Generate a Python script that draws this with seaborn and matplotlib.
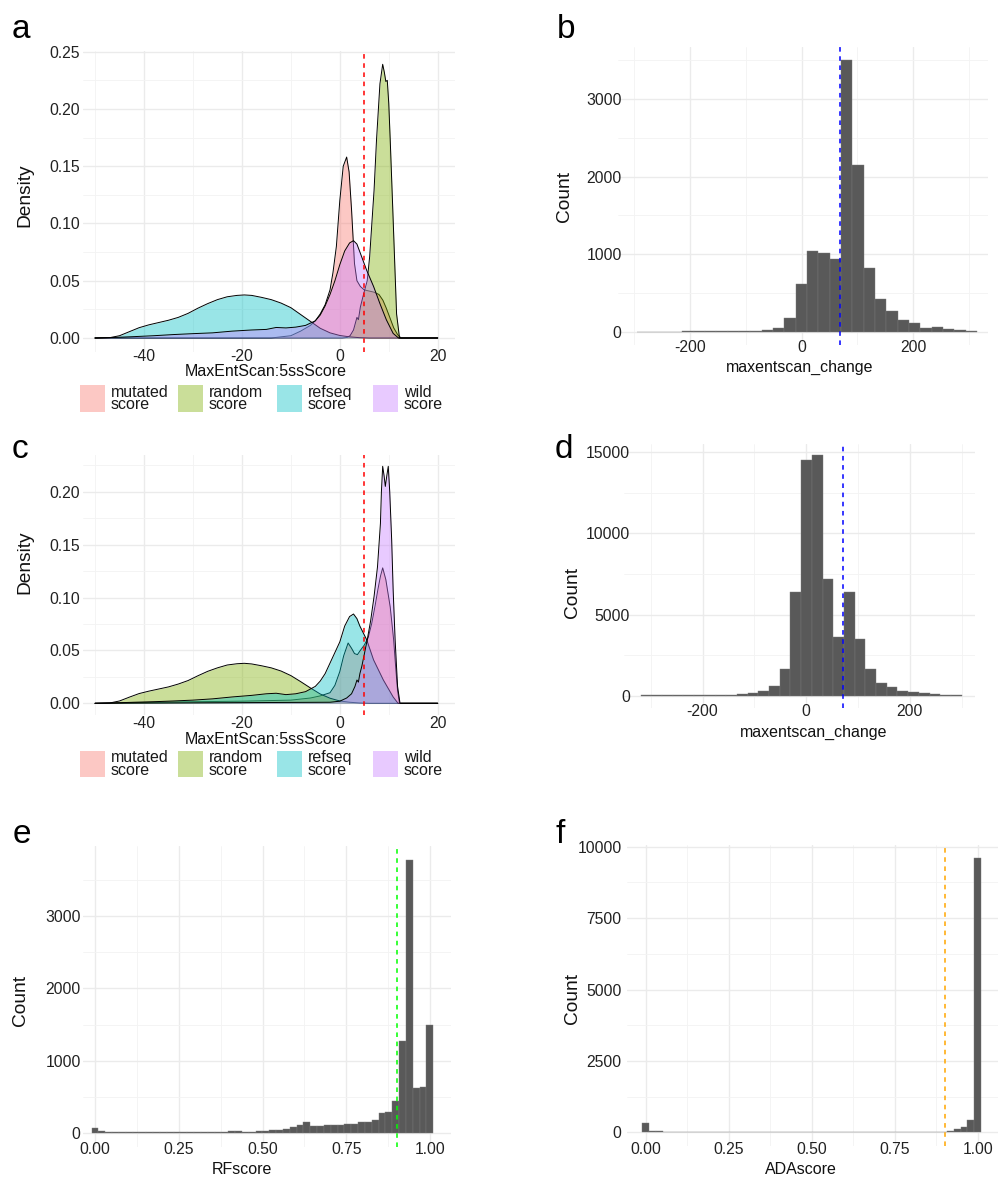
import numpy as np
import pandas as pd
import matplotlib
matplotlib.use("Agg")
import matplotlib.pyplot as plt
import seaborn as sns
from matplotlib.patches import Rectangle
from matplotlib.transforms import Affine2D
from matplotlib.colors import to_rgba

# ---------------- data ----------------
groups = ["mutated\nscore", "random\nscore", "refseq\nscore", "wild\nscore"]
group_colors = ["#F8766D", "#7CAE00", "#00BFC4", "#C77CFF"]

# panel a : densities of MaxEntScan:5ssScore
a_mutated_x = [-50, -14, -10, -8, -6, -5, -4, -3, -2, -1.4, -0.7, 0, 0.7, 1.4, 1.9, 2.4, 3.0, 3.5, 4.2, 5.0,
               6.0, 7.0, 8.0, 8.8, 9.5, 10.3, 11.0, 11.8, 12.5, 20]
a_mutated_d = [0, 0, 0.002, 0.006, 0.011, 0.015, 0.021, 0.029, 0.042, 0.057, 0.08, 0.12, 0.15, 0.158, 0.145, 0.112,
               0.065, 0.05, 0.045, 0.042, 0.041, 0.040, 0.038, 0.033, 0.026, 0.017, 0.009, 0.003, 0, 0]
a_random_x = [-50, 0.5, 1.5, 2.1, 2.8, 3.5, 3.8, 4.2, 4.9, 5.6, 6.1, 6.5, 7.0, 7.5, 8.2, 8.76, 9.1, 9.4, 9.7, 10.0,
              10.3, 10.8, 11.3, 11.6, 12.2, 20]
a_random_d = [0, 0, 0.0005, 0.002, 0.007, 0.018, 0.016, 0.027, 0.039, 0.05, 0.071, 0.097, 0.129, 0.173, 0.222,
              0.239, 0.232, 0.224, 0.225, 0.205, 0.173, 0.115, 0.056, 0.021, 0, 0]
a_refseq_x = [-50, -47, -45, -43, -41, -39, -37, -35, -33, -31, -29, -27, -25, -23, -21, -19.5, -18, -16, -14, -12,
              -10, -8, -6, -4, -2, 0, 2, 4, 6, 20]
a_refseq_d = [0, 0.0003, 0.002, 0.0055, 0.009, 0.0115, 0.0135, 0.0155, 0.018, 0.0215, 0.026, 0.030, 0.0335, 0.036,
              0.0372, 0.0376, 0.0372, 0.0355, 0.0335, 0.0305, 0.0265, 0.0205, 0.0145, 0.0085, 0.0045, 0.0022,
              0.001, 0.0003, 0, 0]
a_wild_x = [-50, -46, -42, -38, -34, -30, -26, -22, -18, -15, -13, -11, -9, -7, -5, -4, -3, -2, -1, 0,
            1, 2, 2.8, 3.5, 4.2, 5.5, 6.9, 8.2, 9.5, 10.9, 12, 20]
a_wild_d = [0, 0.0005, 0.0012, 0.002, 0.003, 0.0038, 0.0045, 0.006, 0.007, 0.0075, 0.0092, 0.0088, 0.0095, 0.011,
            0.015, 0.02, 0.028, 0.038, 0.05, 0.064, 0.076, 0.083, 0.085, 0.082, 0.074, 0.059, 0.045, 0.030, 0.016,
            0.004, 0, 0]

# panel c : densities of MaxEntScan:5ssScore
c_mutated_x = [-50, -40, -30, -20, -10, -6, -4, -2, -1, 0, 0.8, 1.7, 2.4, 3.0, 3.6, 4.2, 5.0, 5.8, 6.5, 7.2,
               7.8, 8.3, 8.76, 9.4, 10.3, 11.0, 11.4, 11.8, 12.2, 20]
c_mutated_d = [0, 0.0008, 0.0015, 0.002, 0.003, 0.005, 0.007, 0.01, 0.017, 0.03, 0.045, 0.057, 0.052, 0.047, 0.046,
               0.05, 0.055, 0.062, 0.075, 0.092, 0.108, 0.12, 0.128, 0.117, 0.091, 0.06, 0.035, 0.012, 0, 0]
c_random_x = [-50, -47, -45, -43, -41, -39, -37, -35, -33, -31, -29, -27, -25, -23, -21, -19.5, -18, -16, -14, -12,
              -10, -8, -6, -4, -2, 0, 2, 4, 6, 20]
c_random_d = [0, 0.0003, 0.0022, 0.0058, 0.0092, 0.0115, 0.0135, 0.0155, 0.0182, 0.0215, 0.026, 0.0302, 0.0335,
              0.0362, 0.0374, 0.0378, 0.0372, 0.0355, 0.0335, 0.0305, 0.0262, 0.0205, 0.0145, 0.0088, 0.0048,
              0.0022, 0.001, 0.0003, 0, 0]
c_refseq_x = [-50, -46, -42, -38, -34, -30, -26, -22, -18, -15, -13, -11, -9, -7, -5, -4, -3, -2, -1, 0,
              1, 2, 2.8, 3.5, 4.1, 5.5, 6.9, 8.9, 10.9, 11.9, 20]
c_refseq_d = [0, 0.0004, 0.001, 0.0015, 0.0022, 0.003, 0.0042, 0.006, 0.0075, 0.009, 0.0095, 0.0082, 0.009, 0.011,
              0.016, 0.021, 0.028, 0.038, 0.048, 0.058, 0.073, 0.082, 0.0844, 0.080, 0.073, 0.060, 0.041, 0.022,
              0.006, 0, 0]
c_wild_x = [-50, -2, 0, 1.4, 2.4, 3.1, 3.5, 3.8, 4.1, 4.5, 4.9, 5.6, 6.3, 7.0, 7.7, 8.3, 8.5, 8.76, 9.05, 9.3,
            9.6, 9.9, 10.2, 10.6, 10.9, 11.3, 11.8, 12.3, 20]
c_wild_d = [0, 0.001, 0.002, 0.005, 0.009, 0.016, 0.022, 0.02, 0.028, 0.035, 0.044, 0.06, 0.078, 0.101, 0.129,
            0.17, 0.2, 0.224, 0.215, 0.205, 0.215, 0.224, 0.2, 0.154, 0.107, 0.06, 0.016, 0, 0]
density_threshold = 5

# panel b : histogram of maxentscan_change (30 bins)
b_bin_start = -295.0
b_bin_width = 20.3
b_counts = [2, 2, 2, 2, 3, 3, 3, 4, 5, 6, 9, 21, 47, 180, 615, 1040, 1010, 933, 3498, 2149,
            821, 417, 271, 146, 107, 52, 60, 30, 17, 6]
b_threshold = 68.6

# panel d : histogram of maxentscan_change (30 bins)
d_bin_start = -319.3
d_bin_width = 20.64
d_counts = [20, 20, 25, 25, 30, 35, 40, 45, 60, 85, 165, 310, 600, 1670, 6360, 14550, 14820, 7180, 3640, 6380,
            3480, 1630, 800, 515, 310, 205, 145, 82, 62, 41]
d_threshold = 70.4

# panel e : histogram of RFscore (50 bins)
score_bin_start = -0.0102
score_bin_width = 0.0204
e_counts = [80, 37, 23, 18, 18, 16, 15, 15, 14, 15, 16, 15, 16, 18, 18, 18, 18, 16, 18, 18,
            28, 28, 23, 23, 28, 37, 50, 50, 60, 83, 110, 150, 105, 100, 110, 110, 110, 124, 128, 151,
            151, 179, 276, 292, 450, 1275, 3770, 625, 635, 1500]
e_threshold = 0.9

# panel f : histogram of ADAscore (50 bins)
f_counts = [315, 58, 35, 23, 18, 14, 12, 12, 11, 10, 10, 9, 10, 11, 10, 12, 11, 12, 13, 11,
            12, 13, 12, 14, 13, 15, 14, 13, 15, 16, 15, 17, 16, 18, 17, 19, 18, 20, 21, 19,
            22, 21, 24, 23, 28, 55, 110, 170, 425, 9590]
f_threshold = 0.9

# ticks
dens_xticks = [-40, -20, 0, 20]
dens_xticks_minor = [-50, -30, -10, 10]
a_yticks = [0, 0.05, 0.10, 0.15, 0.20, 0.25]
c_yticks = [0, 0.05, 0.10, 0.15, 0.20]
change_xticks = [-200, 0, 200]
change_xticks_minor = [-300, -100, 100, 300]
b_yticks = [0, 1000, 2000, 3000]
d_yticks = [0, 5000, 10000, 15000]
score_xticks = [0, 0.25, 0.5, 0.75, 1.0]
e_yticks = [0, 1000, 2000, 3000]
f_yticks = [0, 2500, 5000, 7500, 10000]

# ---------------- figure ----------------
W, H, DPI = 1001, 1179, 100
sns.set_theme(style="white")
plt.rcParams["font.family"] = ["Liberation Sans", "DejaVu Sans"]
plt.rcParams["axes.unicode_minus"] = False

fig = plt.figure(figsize=(W / DPI, H / DPI), dpi=DPI)
fig.patch.set_facecolor("white")
TOP = Affine2D().scale(1, -1).translate(0, H)   # pixel coords from top-left -> display

TICK_COLOR = "#222222"


def px_axes(L, T, R, B):
    return fig.add_axes([L / W, 1 - B / H, (R - L) / W, (B - T) / H])


def lim(p0, v0, p1, v1, e0, e1):
    s = (v1 - v0) / (p1 - p0)
    return (v0 + (e0 - p0) * s, v0 + (e1 - p0) * s)


def mids(ticks):
    return [(a + b) / 2 for a, b in zip(ticks[:-1], ticks[1:])] + [ticks[-1] + (ticks[1] - ticks[0]) / 2]


def style(ax, xt, xt_minor, xlab, yt, ylab, xpad, ypad, xlim, ylim):
    ax.set_xticks(xt)
    ax.set_xticks(xt_minor, minor=True)
    ax.set_xticklabels(xlab)
    ax.set_yticks(yt)
    ax.set_yticks(mids(yt), minor=True)
    ax.set_yticklabels(ylab)
    ax.set_xlim(*xlim)
    ax.set_ylim(*ylim)
    ax.grid(True, which="major", color="#EBEBEB", lw=1.0)
    ax.grid(True, which="minor", color="#F3F3F3", lw=0.6)
    ax.set_axisbelow(True)
    for s in ax.spines.values():
        s.set_visible(False)
    ax.tick_params(which="both", length=0)
    ax.tick_params(axis="x", pad=xpad * 0.72, labelsize=11.3, labelcolor=TICK_COLOR)
    ax.tick_params(axis="y", pad=ypad * 0.72, labelsize=11.3, labelcolor=TICK_COLOR)


def titles(ax, xlabel, xpos, ylabel, ypos):
    ax.set_xlabel(xlabel, fontsize=11.5, color="#111111")
    ax.xaxis.set_label_coords(xpos[0], xpos[1], transform=TOP)
    ax.xaxis.label.set(va="center", ha="center")
    ax.set_ylabel(ylabel, fontsize=13.8, color="#111111")
    ax.yaxis.set_label_coords(ypos[0], ypos[1], transform=TOP)
    ax.yaxis.label.set(va="center", ha="center", rotation_mode="anchor")


def density_panel(ax, curves):
    for i, ((xs, ds), col) in enumerate(zip(curves, group_colors)):
        ax.fill_between(xs, ds, 0, color=col, alpha=0.4, lw=0, zorder=2 + 2 * i)
        sns.lineplot(x=xs, y=ds, ax=ax, color="black", lw=0.7, estimator=None, sort=False, zorder=3 + 2 * i)
    ax.axvline(density_threshold, color="#FF0000", lw=1.1, ls=(0, (3, 3)), zorder=20)


def hist_panel(ax, start, width, counts, thr, thr_color):
    n = len(counts)
    centers = start + width * (np.arange(n) + 0.5)
    df = pd.DataFrame({"value": centers, "count": counts})
    sns.histplot(data=df, x="value", weights="count", bins=n, binrange=(start, start + n * width),
                 ax=ax, color="#595959", alpha=1, edgecolor="#7a7a7a", linewidth=0.3, zorder=2)
    ax.axvline(thr, color=thr_color, lw=1.1, ls=(0, (3, 3)), zorder=20)


def legend_row(ytop, h):
    keys_x = [80, 178, 277, 373]
    for kx, lab, col in zip(keys_x, groups, group_colors):
        fig.add_artist(Rectangle((kx / W, 1 - (ytop + h) / H), 25 / W, h / H, transform=fig.transFigure,
                                 facecolor=to_rgba(col, 0.4), edgecolor="none"))
        fig.text((kx + 31) / W, 1 - (ytop + h / 2) / H, lab, va="center", ha="left", fontsize=11.5,
                 linespacing=0.8, color="#1a1a1a")


def letter(x, y, s):
    fig.text(x / W, 1 - y / H, s, fontsize=24, va="baseline", ha="left", color="black")


fmt2 = lambda v: f"{v:.2f}"
fmti = lambda v: f"{v:g}"

# ---- panel a ----
L, T, R, B = 83, 50.5, 455, 351.7
ax = px_axes(L, T, R, B)
density_panel(ax, [(a_mutated_x, a_mutated_d), (a_random_x, a_random_d),
                   (a_refseq_x, a_refseq_d), (a_wild_x, a_wild_d)])
style(ax, dens_xticks, dens_xticks_minor, [fmti(v) for v in dens_xticks], a_yticks,
      [fmt2(v) for v in a_yticks], -2.2, 3,
      lim(339.8, 0, 437.7, 20, L, R), lim(338, 0, 51.7, 0.25, B, T))
titles(ax, "MaxEntScan:5ssScore", (266, 372), "Density", (25, 195))
legend_row(385, 27)
letter(12, 38, "a")

# ---- panel c ----
L, T, R, B = 83, 454.5, 455, 715
ax = px_axes(L, T, R, B)
density_panel(ax, [(c_mutated_x, c_mutated_d), (c_random_x, c_random_d),
                   (c_refseq_x, c_refseq_d), (c_wild_x, c_wild_d)])
style(ax, dens_xticks, dens_xticks_minor, [fmti(v) for v in dens_xticks], c_yticks,
      [fmt2(v) for v in c_yticks], 1.5, 3,
      lim(339.8, 0, 437.7, 20, L, R), lim(703.3, 0, 491.7, 0.20, B, T))
titles(ax, "MaxEntScan:5ssScore", (266, 739), "Density", (25, 562))
legend_row(751, 26)
letter(12, 458, "c")

# ---- panel b ----
L, T, R, B = 618.3, 47, 988.3, 345.3
ax = px_axes(L, T, R, B)
hist_panel(ax, b_bin_start, b_bin_width, b_counts, b_threshold, "#0000FF")
style(ax, change_xticks, change_xticks_minor, [fmti(v) for v in change_xticks], b_yticks,
      [fmti(v) for v in b_yticks], -5.8, -3.4,
      lim(801.7, 0, 913.3, 200, L, R), lim(331.7, 0, 99, 3000, B, T))
titles(ax, "maxentscan_change", (800, 367.5), "Count", (564, 197))
letter(557, 38, "b")

# ---- panel d ----
L, T, R, B = 624, 443.5, 975, 707.5
ax = px_axes(L, T, R, B)
hist_panel(ax, d_bin_start, d_bin_width, d_counts, d_threshold, "#0000FF")
style(ax, change_xticks, change_xticks_minor, [fmti(v) for v in change_xticks], d_yticks,
      [fmti(v) for v in d_yticks], -4, -6,
      lim(650.7, -300, 961.7, 300, L, R), lim(695.7, 0, 452.3, 15000, B, T))
titles(ax, "maxentscan_change", (814, 732), "Count", (572.5, 593))
letter(555, 458, "d")

# ---- panel e ----
L, T, R, B = 83, 846, 450.7, 1147
ax = px_axes(L, T, R, B)
hist_panel(ax, score_bin_start, score_bin_width, e_counts, e_threshold, "#00FF00")
style(ax, score_xticks, mids(score_xticks)[:-1], [fmt2(v) for v in score_xticks], e_yticks,
      [fmti(v) for v in e_yticks], -5, 2.3,
      lim(95, 0, 430, 1, L, R), lim(1133.3, 0, 916, 3000, B, T))
titles(ax, "RFscore", (242, 1169), "Count", (21, 1000))
letter(13, 843, "e")

# ---- panel f ----
L, T, R, B = 627, 845, 998, 1146
ax = px_axes(L, T, R, B)
hist_panel(ax, score_bin_start, score_bin_width, f_counts, f_threshold, "#FFA500")
style(ax, score_xticks, mids(score_xticks)[:-1], [fmt2(v) for v in score_xticks], f_yticks,
      [fmti(v) for v in f_yticks], -3.5, 5.3,
      lim(645.7, 0, 977.7, 1, L, R), lim(1132.3, 0, 846.7, 10000, B, T))
titles(ax, "ADAscore", (801, 1170), "Count", (572.5, 998))
letter(555, 843, "f")

fig.savefig("out.png", dpi=DPI, facecolor="white")
